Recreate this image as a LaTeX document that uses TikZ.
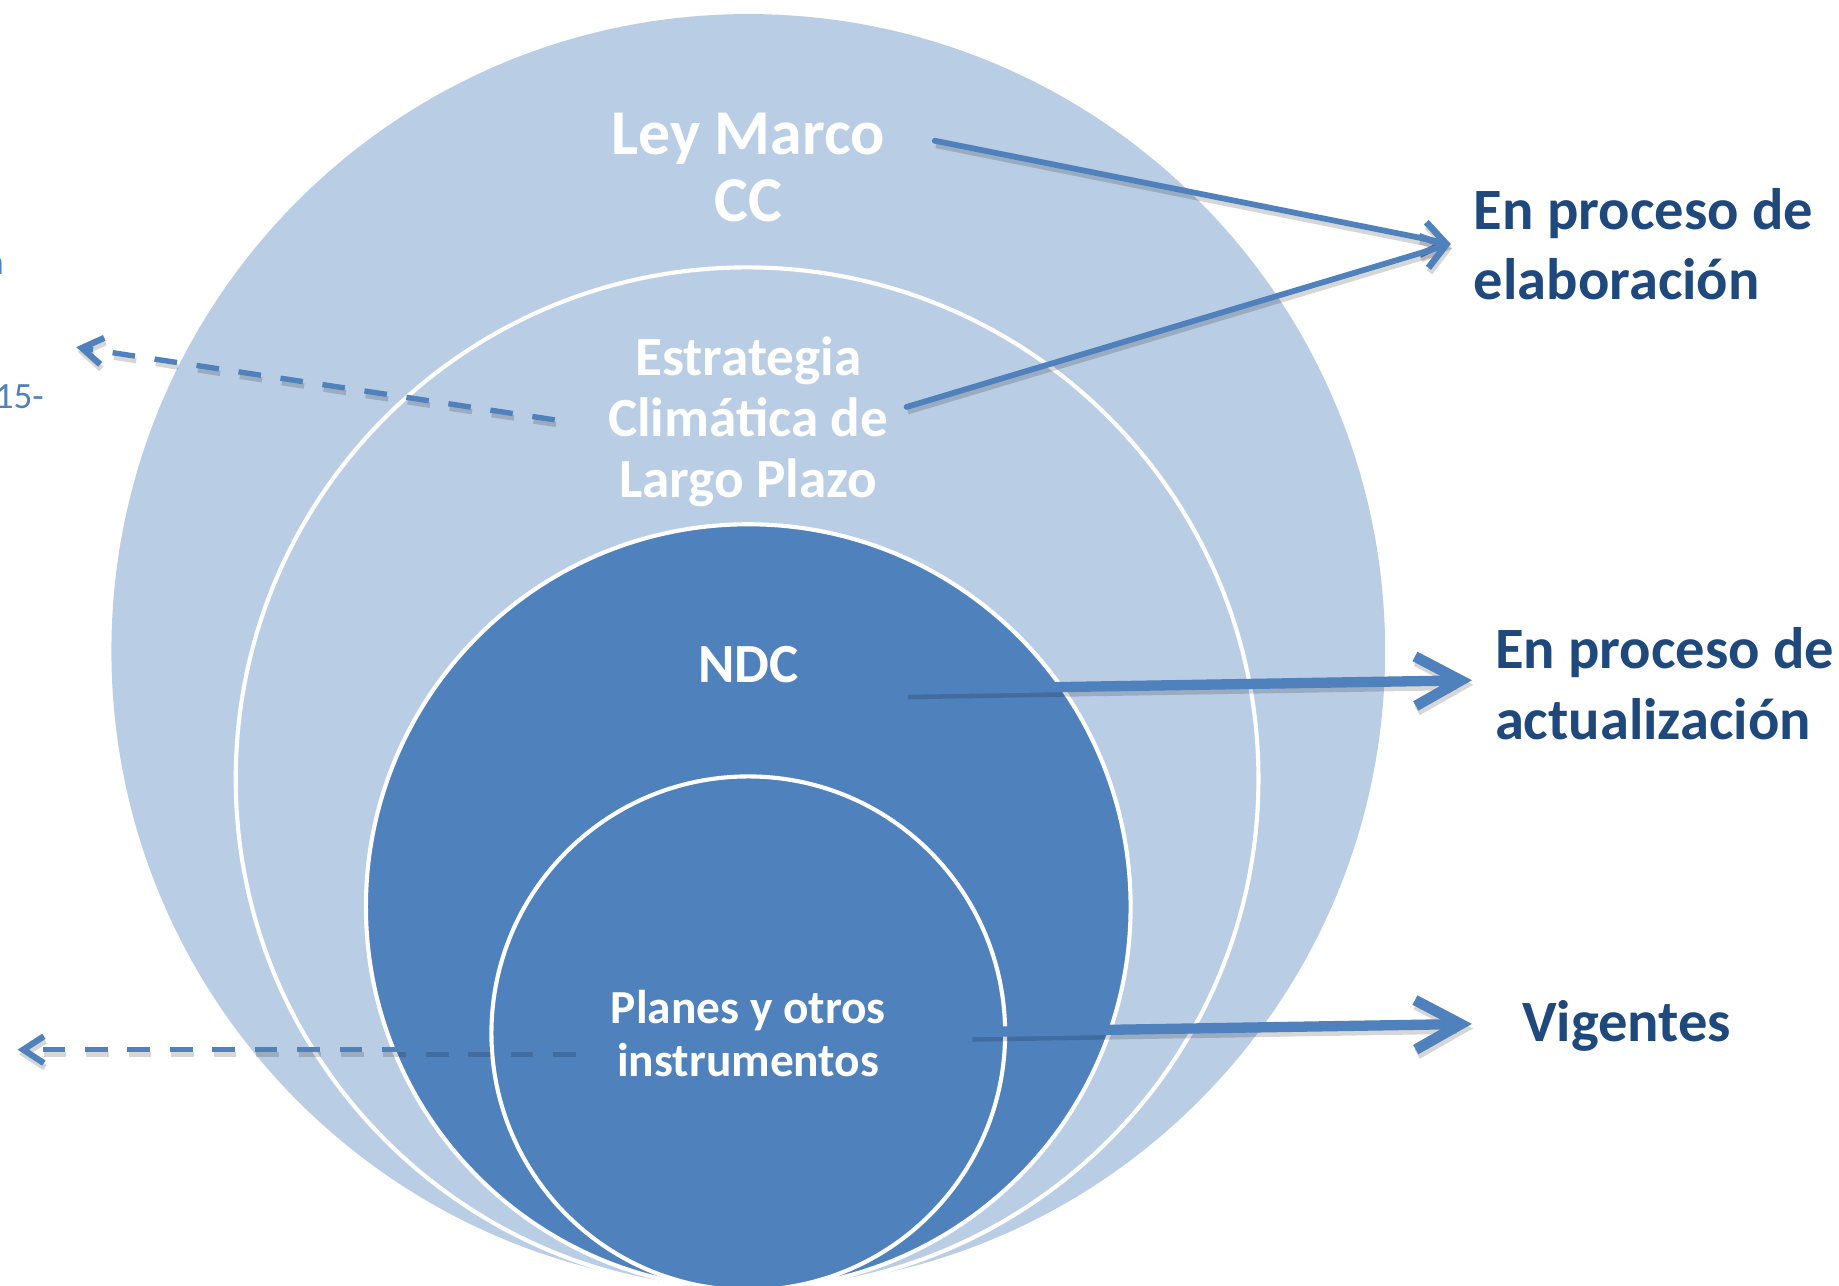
\documentclass[tikz,border=0pt]{standalone}
\usepackage{fontspec}
\setmainfont{Carlito}
\usetikzlibrary{arrows.meta}
\definecolor{pale}{HTML}{B9CDE5}
\definecolor{mid}{HTML}{4F81BD}
\definecolor{ink}{HTML}{1F497D}
\begin{document}
\begin{tikzpicture}[
  ring/.style={draw=white, line width=1pt},
  inner/.style={font=\bfseries, text=white, align=center},
  state/.style={font=\bfseries\fontsize{14.2}{17.1}\selectfont, text=ink, align=left, anchor=west, inner sep=0pt},
  shade/.style={draw=black, draw opacity=0.16, transform canvas={shift={(0.3pt,-1.1pt)}}},
  thin arrow/.style={draw=mid, line width=1.4pt, line cap=round, -{Straight Barb[length=5.5pt, width=8pt, line width=1.6pt]},
    preaction={shade, line width=1.4pt, -{Straight Barb[length=5.5pt, width=8pt, line width=1.6pt]}}},
  thick arrow/.style={draw=mid, line width=2.5pt, -{Straight Barb[length=11pt, width=12pt, line width=2.6pt]},
    preaction={shade, line width=2.5pt, -{Straight Barb[length=11pt, width=12pt, line width=2.6pt]}}},
  back arrow/.style={draw=mid, line width=1.3pt, dash pattern=on 5.5pt off 4.8pt, -{Straight Barb[length=5pt, width=6.5pt, line width=1.5pt]},
    preaction={shade, line width=1.3pt, dash pattern=on 5.5pt off 4.8pt, -{Straight Barb[length=5pt, width=6.5pt, line width=1.5pt]}}}
]
\useasboundingbox (0,0) rectangle (15.68,10.96);
\clip (0,0) rectangle (15.68,10.96);
% nested circles
\fill [pale] (6.38,5.41) circle (5.43);
\filldraw [ring, fill=pale] (6.37,4.32) circle (4.36);
\filldraw [ring, fill=mid] (6.38,3.23) circle (3.26);
\filldraw [ring, fill=mid] (6.38,2.15) circle (2.19);
% labels inside
\node [inner, font=\bfseries\fontsize{15.5}{16.2}\selectfont] (ley) at (6.38,9.53) {Ley Marco\\CC};
\node [inner, font=\bfseries\fontsize{13.4}{14.8}\selectfont] (elp) at (6.38,7.36) {Estrategia\\Climática de\\Largo Plazo};
\node [inner, font=\bfseries\fontsize{13.4}{14.8}\selectfont] (ndc) at (6.38,5.29) {NDC};
\node [inner, font=\bfseries\fontsize{11.5}{12.8}\selectfont] (planes) at (6.38,2.15) {Planes y otros\\instrumentos};
% labels outside
\node [state] (elab) at (12.56,8.88) {En proceso de\\elaboración};
\node [state] (act) at (12.74,5.13) {En proceso de\\actualización};
\node [state] (vig) at (12.97,2.21) {Vigentes};
\node [text=mid, font=\fontsize{9}{10}\selectfont, anchor=east, inner sep=0pt] (cut1) at (0.04,8.70) {n};
\node [text=mid, font=\fontsize{9}{10}\selectfont, anchor=east, inner sep=0pt] (cut2) at (0.38,7.58) {15-};
% arrow ends
\coordinate (leyE) at (7.97,9.76);
\coordinate (elpE) at (7.73,7.49);
\coordinate (elpW) at (4.73,7.38);
\coordinate (ndcE) at (7.73,5.08);
\coordinate (planesE) at (8.28,2.16);
\coordinate (planesW) at (4.90,2.01);
\coordinate (elabT) at (12.37,8.88);
\coordinate (actT) at (12.55,5.16);
\coordinate (vigT) at (12.55,2.23);
\coordinate (leftT1) at (0.65,8.00);
\coordinate (leftT2) at (0.15,2.01);
% arrows
\draw [thin arrow] (leyE) -- (elabT);
\draw [thin arrow] (elpE) -- (elabT);
\draw [thick arrow] (ndcE) -- (actT);
\draw [thick arrow] (planesE) -- (vigT);
\draw [back arrow] (elpW) -- (leftT1);
\draw [back arrow] (planesW) -- (leftT2);
\end{tikzpicture}
\end{document}
